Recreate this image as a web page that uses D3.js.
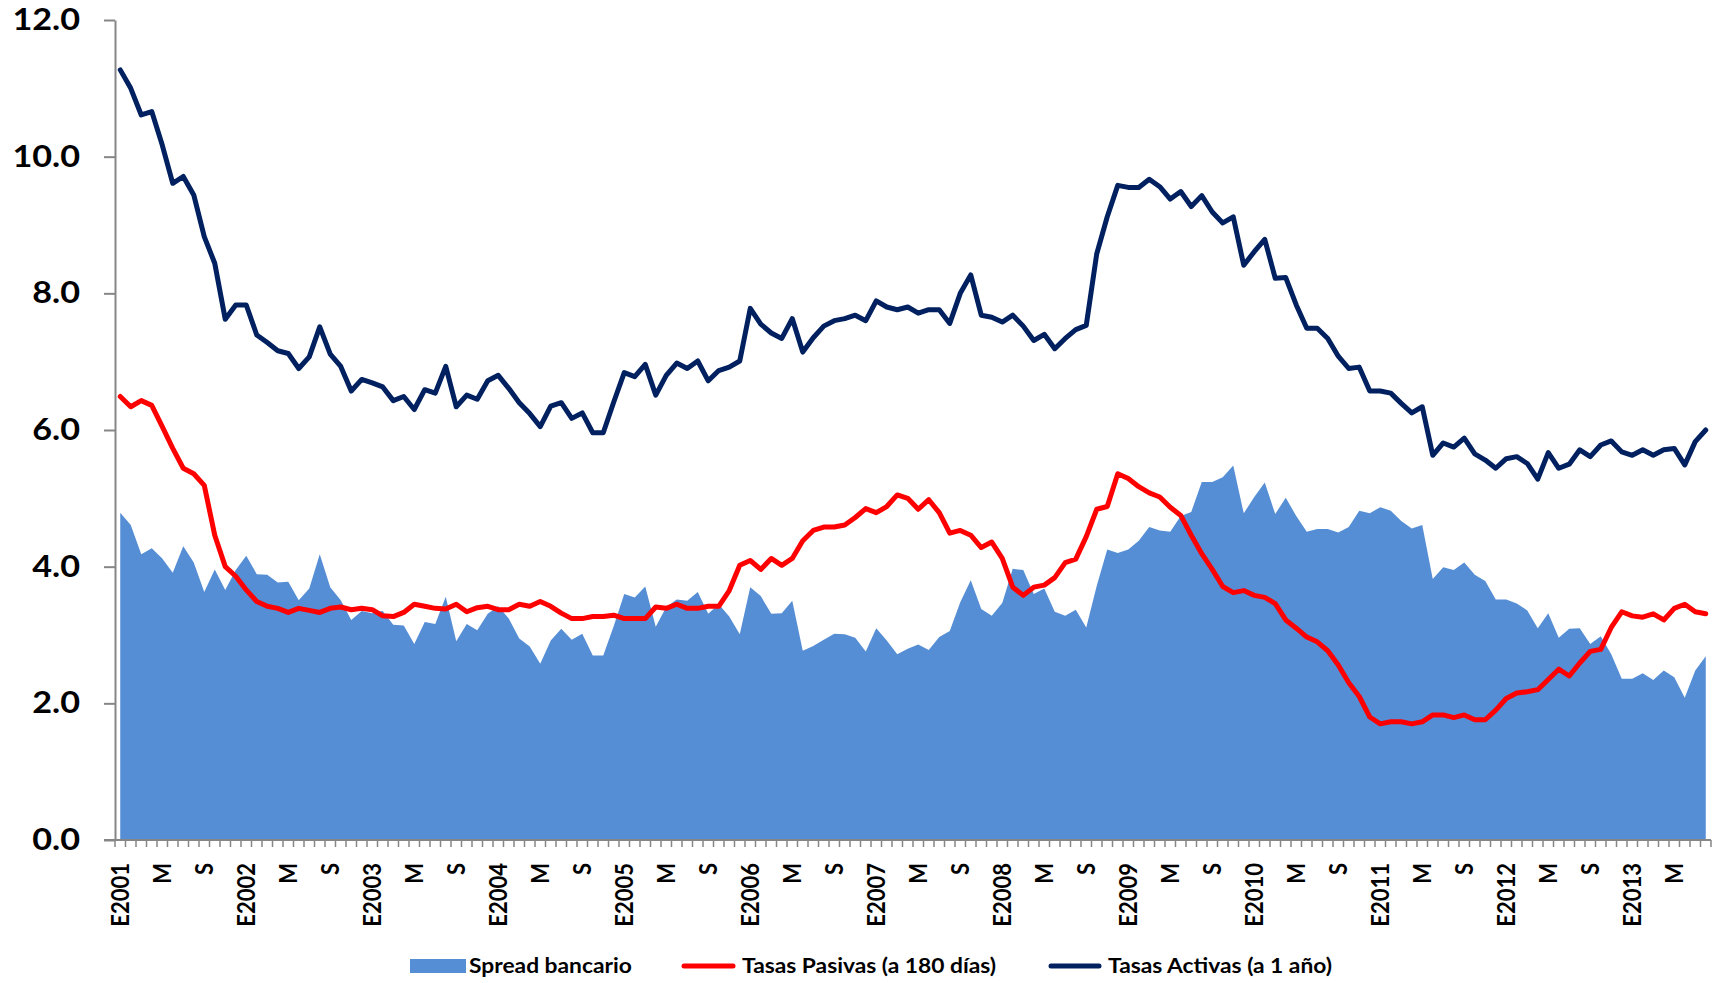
<!DOCTYPE html>
<html>
<head>
<meta charset="utf-8">
<script src="https://cdn.jsdelivr.net/npm/d3@7"></script>
<style>
  body { margin: 0; background: #fff; }
  text { font-family: Lato, "Open Sans", sans-serif; font-weight: bold; fill: #000; }
</style>
</head>
<body>
<div id="canvas"></div>
<script>
"use strict"

/* monthly series, enero 2001 .. agosto 2013 (152 months) */

let startYear = 2001;
let monthLetters = ["E", "F", "M", "A", "M", "J", "J", "A", "S", "O", "N", "D"];

let tasasActivas = [
    11.27, 11.00, 10.61, 10.66, 10.17, 9.61, 9.71, 9.44, 8.83, 8.44, 7.62, 7.83,
    7.83, 7.39, 7.28, 7.16, 7.12, 6.90, 7.07, 7.51, 7.11, 6.93, 6.57, 6.74,
    6.69, 6.63, 6.43, 6.49, 6.30, 6.59, 6.54, 6.93, 6.34, 6.51, 6.45, 6.72,
    6.80, 6.61, 6.40, 6.24, 6.05, 6.35, 6.40, 6.17, 6.25, 5.96, 5.96, 6.41,
    6.84, 6.78, 6.96, 6.51, 6.80, 6.98, 6.90, 7.01, 6.72, 6.87, 6.92, 7.01,
    7.78, 7.55, 7.42, 7.34, 7.63, 7.14, 7.35, 7.52, 7.60, 7.63, 7.68, 7.60,
    7.89, 7.80, 7.76, 7.80, 7.71, 7.76, 7.76, 7.56, 8.00, 8.27, 7.68, 7.65,
    7.58, 7.68, 7.52, 7.31, 7.40, 7.19, 7.34, 7.47, 7.53, 8.58, 9.12, 9.58,
    9.55, 9.55, 9.67, 9.56, 9.38, 9.49, 9.27, 9.43, 9.19, 9.03, 9.12, 8.41,
    8.61, 8.79, 8.22, 8.23, 7.83, 7.49, 7.49, 7.34, 7.08, 6.90, 6.92, 6.57,
    6.57, 6.54, 6.39, 6.25, 6.34, 5.63, 5.81, 5.75, 5.88, 5.65, 5.56, 5.44,
    5.58, 5.61, 5.51, 5.28, 5.67, 5.44, 5.50, 5.71, 5.61, 5.78, 5.84, 5.68,
    5.63, 5.71, 5.63, 5.71, 5.73, 5.49, 5.83, 6.00
];

let tasasPasivas = [
    6.49, 6.34, 6.43, 6.36, 6.05, 5.73, 5.44, 5.36, 5.19, 4.46, 4.00, 3.86,
    3.66, 3.49, 3.42, 3.39, 3.33, 3.39, 3.36, 3.33, 3.39, 3.41, 3.37, 3.39,
    3.37, 3.28, 3.27, 3.33, 3.45, 3.42, 3.39, 3.38, 3.45, 3.34, 3.40, 3.42,
    3.37, 3.37, 3.45, 3.42, 3.49, 3.42, 3.32, 3.24, 3.24, 3.27, 3.27, 3.29,
    3.24, 3.24, 3.24, 3.41, 3.39, 3.45, 3.39, 3.39, 3.42, 3.42, 3.65, 4.02,
    4.09, 3.96, 4.12, 4.02, 4.12, 4.38, 4.53, 4.58, 4.58, 4.61, 4.72, 4.85,
    4.79, 4.88, 5.05, 5.00, 4.84, 4.98, 4.79, 4.49, 4.53, 4.46, 4.28, 4.36,
    4.12, 3.70, 3.58, 3.70, 3.73, 3.84, 4.06, 4.11, 4.44, 4.84, 4.88, 5.36,
    5.29, 5.17, 5.08, 5.02, 4.87, 4.75, 4.46, 4.19, 3.96, 3.71, 3.62, 3.65,
    3.58, 3.55, 3.46, 3.22, 3.10, 2.97, 2.90, 2.77, 2.56, 2.30, 2.10, 1.80,
    1.70, 1.73, 1.73, 1.70, 1.73, 1.83, 1.83, 1.79, 1.83, 1.76, 1.76, 1.90,
    2.07, 2.15, 2.17, 2.20, 2.35, 2.50, 2.40, 2.59, 2.76, 2.79, 3.11, 3.34,
    3.28, 3.26, 3.31, 3.22, 3.39, 3.45, 3.34, 3.31
];

let spreadBancario = [
    4.79, 4.61, 4.18, 4.27, 4.12, 3.91, 4.30, 4.06, 3.63, 3.96, 3.66, 3.95,
    4.16, 3.89, 3.88, 3.77, 3.78, 3.51, 3.68, 4.18, 3.70, 3.51, 3.22, 3.35,
    3.32, 3.35, 3.15, 3.14, 2.87, 3.19, 3.16, 3.56, 2.91, 3.16, 3.07, 3.31,
    3.42, 3.24, 2.95, 2.83, 2.58, 2.92, 3.09, 2.93, 3.02, 2.70, 2.70, 3.13,
    3.60, 3.55, 3.71, 3.12, 3.41, 3.52, 3.50, 3.63, 3.31, 3.45, 3.27, 3.01,
    3.70, 3.57, 3.31, 3.32, 3.50, 2.77, 2.84, 2.93, 3.02, 3.01, 2.96, 2.76,
    3.10, 2.92, 2.72, 2.80, 2.86, 2.78, 2.97, 3.06, 3.48, 3.80, 3.38, 3.28,
    3.47, 3.97, 3.95, 3.60, 3.68, 3.34, 3.28, 3.37, 3.11, 3.72, 4.25, 4.20,
    4.25, 4.38, 4.58, 4.53, 4.51, 4.74, 4.80, 5.24, 5.24, 5.31, 5.48, 4.78,
    5.02, 5.23, 4.77, 5.01, 4.74, 4.51, 4.55, 4.55, 4.50, 4.58, 4.82, 4.78,
    4.87, 4.82, 4.67, 4.56, 4.61, 3.82, 3.99, 3.95, 4.06, 3.88, 3.79, 3.52,
    3.52, 3.46, 3.36, 3.10, 3.32, 2.96, 3.09, 3.10, 2.87, 2.98, 2.72, 2.36,
    2.36, 2.44, 2.34, 2.48, 2.38, 2.08, 2.48, 2.69
];

let yTicks = [0, 2, 4, 6, 8, 10, 12];

// category names: E2001, F, M, A ... only the January one carries the year
let categories = tasasActivas.map(function (d, i) {
    let m = i % 12;
    return m === 0 ? monthLetters[m] + (startYear + i / 12) : monthLetters[m];
});

let W = 1719, H = 983;
let plotLeft = 115, plotRight = 1711, plotTop = 20, plotBottom = 840;
let axisColour = "#868686";
let stretch = 1.14; // the original text is a bit wider than Lato

let drawing = d3.select("#canvas")
    .append("svg")
    .attr("width", W)
    .attr("height", H);

drawing.append("rect")
    .attr("width", W)
    .attr("height", H)
    .attr("fill", "#fff");

let x = d3.scaleBand()
    .domain(d3.range(categories.length))
    .range([plotLeft, plotRight])
    .paddingInner(0)
    .paddingOuter(0);

let cx = function (i) { return x(i) + x.bandwidth() / 2; };

let y = d3.scaleLinear()
    .domain([0, 12])
    .range([plotBottom, plotTop]);

/* series: area first, lines on top */
let area = d3.area()
    .x(function (d, i) { return cx(i); })
    .y0(y(0))
    .y1(function (d) { return y(d); });

drawing.append("path")
    .datum(spreadBancario)
    .attr("d", area)
    .attr("fill", "#558ED5");

let line = d3.line()
    .x(function (d, i) { return cx(i); })
    .y(function (d) { return y(d); });

drawing.append("path")
    .datum(tasasPasivas)
    .attr("d", line)
    .attr("fill", "none")
    .attr("stroke", "#FF0000")
    .attr("stroke-width", 5)
    .attr("stroke-linejoin", "round")
    .attr("stroke-linecap", "round");

drawing.append("path")
    .datum(tasasActivas)
    .attr("d", line)
    .attr("fill", "none")
    .attr("stroke", "#002060")
    .attr("stroke-width", 5)
    .attr("stroke-linejoin", "round")
    .attr("stroke-linecap", "round");

/* y axis */
let yAxis = drawing.append("g")
    .attr("transform", "translate(" + plotLeft + ",0)")
    .call(d3.axisLeft(y)
        .tickValues(yTicks)
        .tickFormat(d3.format(".1f"))
        .tickSize(11)
        .tickSizeOuter(0)
        .tickPadding(24));

yAxis.selectAll("path, line")
    .attr("stroke", axisColour)
    .attr("stroke-width", 2);

// widen the labels but keep their right edge at the same place
yAxis.selectAll("text")
    .attr("font-family", "Lato, sans-serif")
    .attr("font-weight", "bold")
    .attr("font-size", 30)
    .attr("fill", "#000")
    .attr("x", -35 / stretch)
    .attr("transform", "scale(" + stretch + ",1)");

/* x axis: one little tick at every month boundary, label every 4 months */
let xAxis = drawing.append("g");

xAxis.append("line")
    .attr("x1", plotLeft - 11)
    .attr("x2", plotRight)
    .attr("y1", plotBottom)
    .attr("y2", plotBottom)
    .attr("stroke", axisColour)
    .attr("stroke-width", 2);

xAxis.selectAll("line.tick")
    .data(d3.range(categories.length + 1))
    .enter()
    .append("line")
    .attr("class", "tick")
    .attr("x1", function (k) { return plotLeft + k * x.bandwidth(); })
    .attr("x2", function (k) { return plotLeft + k * x.bandwidth(); })
    .attr("y1", plotBottom)
    .attr("y2", plotBottom + 7)
    .attr("stroke", axisColour)
    .attr("stroke-width", 1.5);

let labelled = d3.range(categories.length).filter(function (i) { return i % 4 === 0; });

xAxis.selectAll("text")
    .data(labelled)
    .enter()
    .append("text")
    .attr("transform", function (i) {
        return "translate(" + cx(i) + "," + (plotBottom + 23) + ") rotate(-90) scale(1," + stretch + ")";
    })
    .attr("text-anchor", "end")
    .attr("dy", "0.36em")
    .attr("font-size", 22)
    .text(function (i) { return categories[i]; });

/* legend */
let legend = drawing.append("g");
let legendY = 966;

legend.append("rect")
    .attr("x", 410)
    .attr("y", legendY - 7)
    .attr("width", 56)
    .attr("height", 14)
    .attr("fill", "#558ED5");

legend.append("line")
    .attr("x1", 684).attr("x2", 733)
    .attr("y1", legendY).attr("y2", legendY)
    .attr("stroke", "#FF0000")
    .attr("stroke-width", 5)
    .attr("stroke-linecap", "round");

legend.append("line")
    .attr("x1", 1051).attr("x2", 1099)
    .attr("y1", legendY).attr("y2", legendY)
    .attr("stroke", "#002060")
    .attr("stroke-width", 5)
    .attr("stroke-linecap", "round");

let legendTexts = [
    { x: 469, label: "Spread bancario" },
    { x: 742, label: "Tasas Pasivas (a 180 días)" },
    { x: 1108, label: "Tasas Activas (a 1 año)" }
];

legend.selectAll("text")
    .data(legendTexts)
    .enter()
    .append("text")
    .attr("transform", function (d) { return "translate(" + d.x + "," + legendY + ") scale(" + stretch + ",1)"; })
    .attr("dy", "0.36em")
    .attr("font-size", 20)
    .text(function (d) { return d.label; });
</script>
</body>
</html>
